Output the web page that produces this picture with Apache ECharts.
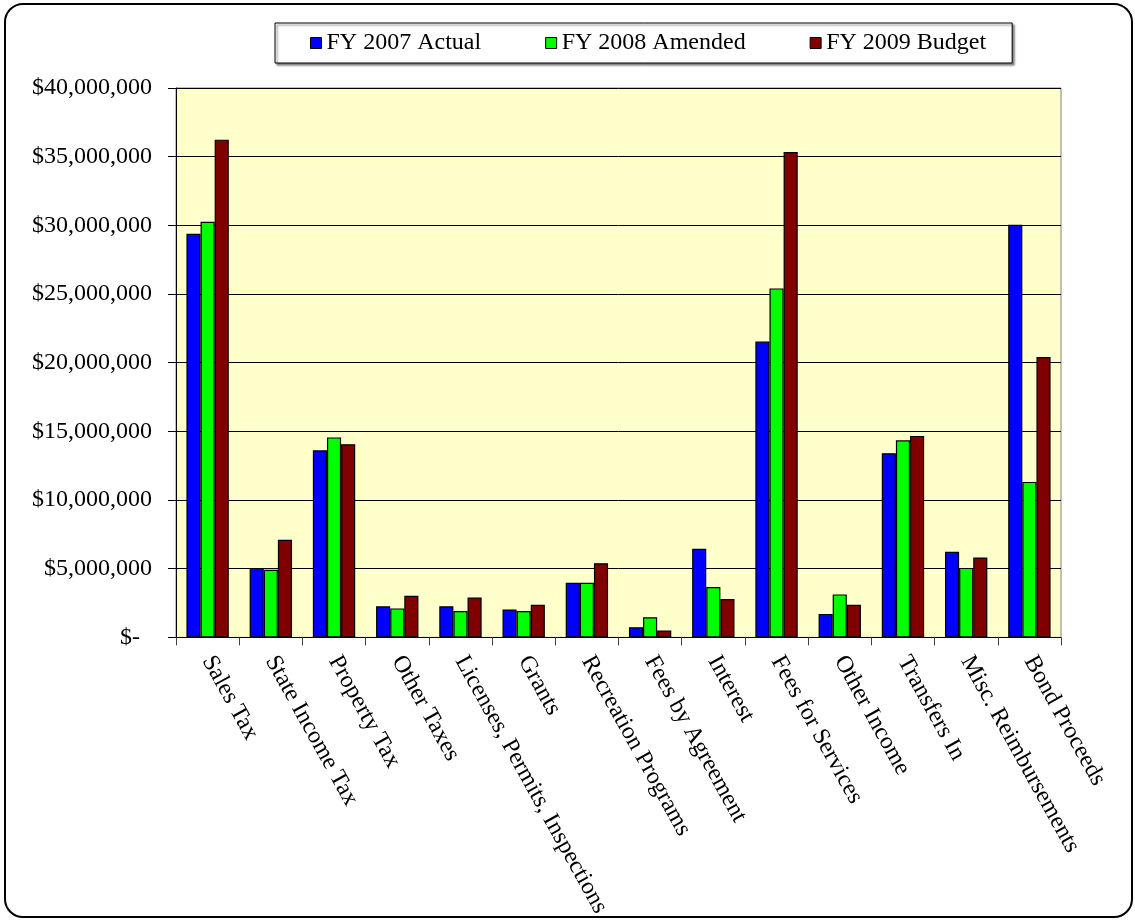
<!DOCTYPE html>
<html>
<head>
<meta charset="utf-8">
<script src="https://cdn.jsdelivr.net/npm/echarts@6/dist/echarts.min.js"></script>
<style>
html,body{margin:0;padding:0;background:#fff;}
#chart{width:1135px;height:920px;}
</style>
</head>
<body>
<div id="chart"></div>
<script>
const categories = ['Sales Tax','State Income Tax','Property Tax','Other Taxes','Licenses, Permits, Inspections','Grants','Recreation Programs','Fees by Agreement','Interest','Fees for Services','Other Income','Transfers In','Misc. Reimbursements','Bond Proceeds'];
const seriesNames = ['FY 2007 Actual','FY 2008 Amended','FY 2009 Budget'];
const fy2007 = [29390000, 5060000, 13620000, 2260000, 2260000, 2030000, 3980000, 740000, 6450000, 21540000, 1710000, 13410000, 6240000, 30050000];
const fy2008 = [30260000, 4920000, 14560000, 2110000, 1920000, 1920000, 3980000, 1470000, 3660000, 25410000, 3130000, 14350000, 5060000, 11320000];
const fy2009 = [36240000, 7110000, 14060000, 3030000, 2900000, 2370000, 5400000, 500000, 2790000, 35340000, 2370000, 14670000, 5820000, 20410000];
const yMin = 0, yMax = 40000000, yStep = 5000000;
const colors = ['#0000FF','#00FF00','#800000'];

const FONT = '"Liberation Serif","Times New Roman",serif';
const chart = echarts.init(document.getElementById('chart'));
const mk = (name, data, i) => ({
  name: name, type: 'bar', data: data, barGap: '0%', barCategoryGap: '33%',
  itemStyle: {color: colors[i], borderColor: '#000', borderWidth: 1.2},
  emphasis: {disabled: true}
});
chart.setOption({
  animation: false,
  textStyle: {fontFamily: FONT, color: '#000'},
  color: colors,
  legend: {
    left: 275, top: 23,
    padding: [8, 26, 8, 35],
    itemWidth: 11, itemHeight: 11, itemGap: 64,
    borderColor: '#000', borderWidth: 1,
    shadowColor: 'rgba(0,0,0,0.5)', shadowOffsetX: 2, shadowOffsetY: 2, shadowBlur: 2,
    backgroundColor: '#fff',
    icon: 'rect',
    itemStyle: {borderColor: '#000', borderWidth: 1},
    textStyle: {fontFamily: FONT, fontSize: 24, color: '#000'},
    data: seriesNames
  },
  grid: {left: 176, right: 74, top: 88, bottom: 281, show: true, backgroundColor: '#FFFFCC', borderColor: '#808080', borderWidth: 1},
  xAxis: {
    type: 'category', data: categories,
    axisLine: {lineStyle: {color: '#000', width: 1}},
    axisTick: {show: true, length: 8, lineStyle: {color: '#444'}},
    axisLabel: {interval: 0, rotate: -61, margin: 20, fontFamily: FONT, fontSize: 24, color: '#000'}
  },
  yAxis: {
    type: 'value', min: yMin, max: yMax, interval: yStep,
    axisLine: {show: true, lineStyle: {color: '#000'}},
    axisTick: {show: true, length: 8, lineStyle: {color: '#000'}},
    splitLine: {lineStyle: {color: '#000', width: 1}},
    axisLabel: {
      margin: 24, fontFamily: FONT, fontSize: 24, color: '#000',
      formatter: v => v === 0 ? '$-  ' : '$' + v.toLocaleString('en-US')
    }
  },
  graphic: [{
    type: 'rect', z: 100, silent: true,
    shape: {x: 5, y: 4, width: 1127, height: 913, r: 18},
    style: {fill: 'none', stroke: '#000', lineWidth: 2}
  }],
  series: [mk(seriesNames[0], fy2007, 0), mk(seriesNames[1], fy2008, 1), mk(seriesNames[2], fy2009, 2)]
});
</script>
</body>
</html>
